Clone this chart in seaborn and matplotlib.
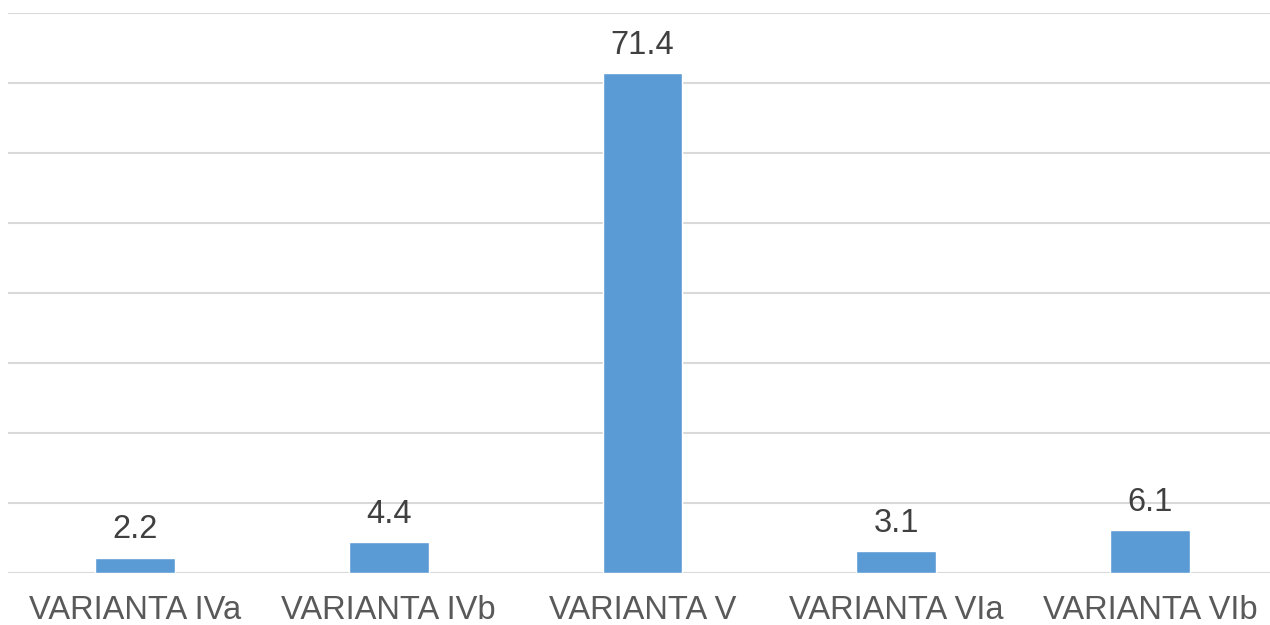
import matplotlib
matplotlib.use("Agg")
import matplotlib.pyplot as plt
import seaborn as sns
import pandas as pd

categories = ["VARIANTA IVa", "VARIANTA IVb", "VARIANTA V", "VARIANTA VIa", "VARIANTA VIb"]
values = [2.2, 4.4, 71.4, 3.1, 6.1]

sns.set_style("white")
plt.rcParams["font.family"] = ["Liberation Sans", "DejaVu Sans"]

df = pd.DataFrame({"variant": categories, "value": values})

fig = plt.figure(figsize=(12.7, 6.25), dpi=100)
ax = fig.add_axes([8 / 1270, 1 - 573 / 625, (1277 - 8) / 1270, (573 - 13) / 625])

sns.barplot(data=df, x="variant", y="value", color="#5B9BD5", width=0.315,
            saturation=1, ax=ax, zorder=3)

ax.set_ylim(0, 80)
ax.set_yticks(range(0, 81, 10))
ax.yaxis.grid(True, color="#D9D9D9", linewidth=1.5, zorder=0)
ax.set_axisbelow(True)
ax.tick_params(axis="y", left=False, labelleft=False)
ax.tick_params(axis="x", bottom=False, labelsize=23.5, colors="#595959", pad=12)
ax.set_xlabel("")
ax.set_ylabel("")
for s in ax.spines.values():
    s.set_visible(False)

for i, v in enumerate(values):
    ax.annotate(f"{v:.1f}", (i, v), xytext=(0, 9), textcoords="offset points",
                ha="center", va="bottom", fontsize=23.5, color="#404040")

fig.savefig("out.png", dpi=100)
